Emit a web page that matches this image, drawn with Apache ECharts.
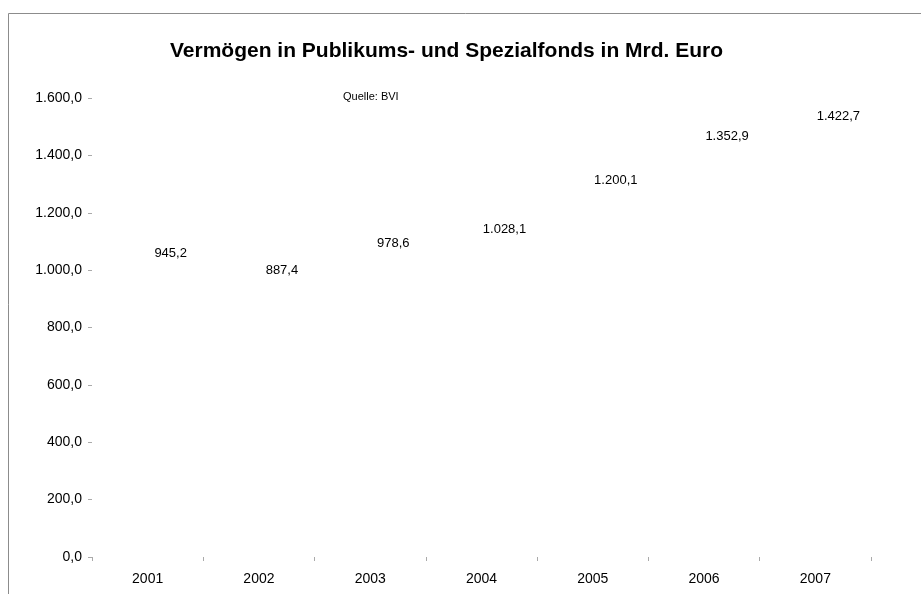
<!DOCTYPE html>
<html>
<head>
<meta charset="utf-8">
<script src="https://cdn.jsdelivr.net/npm/echarts@6/dist/echarts.min.js"></script>
<style>
  html, body { margin: 0; padding: 0; background: #fff; }
  #chart { width: 921px; height: 594px; }
</style>
</head>
<body>
<div id="chart"></div>
<script>
// Vermögen in Publikums- und Spezialfonds (Mrd. Euro)
var years = ['2001', '2002', '2003', '2004', '2005', '2006', '2007'];
var assets = [945.2, 887.4, 978.6, 1028.1, 1200.1, 1352.9, 1422.7];

var fmt = function(v) {
	return v.toLocaleString('de-DE', {minimumFractionDigits: 1, maximumFractionDigits: 1});
};

var myChart = echarts.init(document.getElementById('chart'));
var option = {
	animation: false,
	backgroundColor: '#fff',
	textStyle: {fontFamily: 'Liberation Sans, Arial, sans-serif'},
	title: [
		{
			text: 'Vermögen in Publikums- und Spezialfonds in Mrd. Euro',
			left: 165,
			top: 36,
			textStyle: {fontSize: 21, fontWeight: 'bold', color: '#000'}
		},
		{
			text: 'Quelle: BVI',
			left: 338,
			top: 86,
			textStyle: {fontSize: 11, fontWeight: 'normal', color: '#000'}
		}
	],
	graphic: [
		{
			type: 'rect',
			shape: {x: 8.5, y: 13.5, width: 1000, height: 1000},
			style: {fill: 'none', stroke: '#8c8c8c', lineWidth: 1}
		}
	],
	grid: {
		left: 92,
		right: 50,
		top: 98,
		bottom: 37
	},
	xAxis: {
		type: 'category',
		data: years,
		boundaryGap: true,
		axisLine: {show: false},
		axisTick: {show: true, length: 4, lineStyle: {color: '#aaa'}},
		axisLabel: {margin: 15, fontSize: 14, color: '#000'}
	},
	yAxis: {
		type: 'value',
		min: 0,
		max: 1600,
		interval: 200,
		splitLine: {show: false},
		axisLine: {show: false},
		axisTick: {show: true, length: 4, lineStyle: {color: '#aaa'}},
		axisLabel: {
			margin: 10,
			fontSize: 14,
			color: '#000',
			formatter: fmt
		}
	},
	series: [
		{
			name: 'Vermögen',
			type: 'bar',
			data: assets,
			itemStyle: {color: 'rgba(0,0,0,0)'},
			label: {
				show: true,
				position: 'top',
				distance: 26,
				offset: [23, 0],
				fontSize: 13,
				color: '#000',
				formatter: function(p) { return fmt(p.value); }
			}
		}
	]
};
myChart.setOption(option);
</script>
</body>
</html>
